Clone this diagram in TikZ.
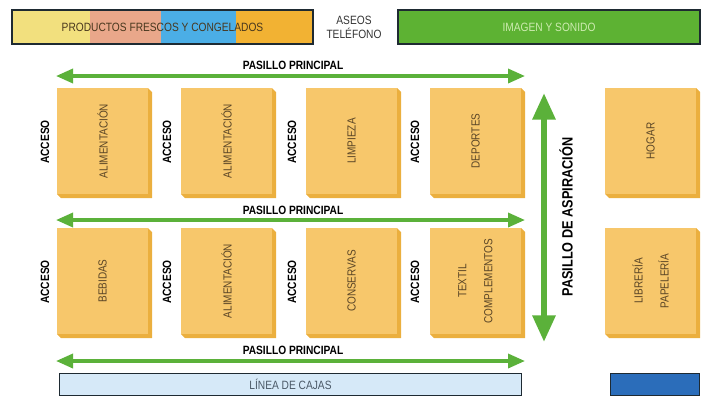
\documentclass[tikz,border=0pt]{standalone}
\usepackage{fontspec}
\setmainfont[FakeStretch=0.85]{Liberation Sans}
\usetikzlibrary{arrows.meta}

\definecolor{shelfface}{HTML}{F7C76B}
\definecolor{shelfside}{HTML}{EBAF3E}
\definecolor{shelfink}{HTML}{5A4526}
\definecolor{fyellow}{HTML}{F2E07E}
\definecolor{fsalmon}{HTML}{E9A78A}
\definecolor{fblue}{HTML}{4BAEE6}
\definecolor{forange}{HTML}{F2B233}
\definecolor{aislegreen}{HTML}{5BB13A}
\definecolor{imggreen}{HTML}{5DB233}
\definecolor{imgink}{HTML}{CDEBB0}
\definecolor{cajasfill}{HTML}{D6E9F8}
\definecolor{cajasink}{HTML}{4A5866}
\definecolor{cajablue}{HTML}{2B6DBA}
\definecolor{darkedge}{HTML}{1E2A32}

\tikzset{every picture/.style={line width=0.75pt}}
\tikzset{
  shelfbox/.style={fill=shelfface, inner sep=0pt, outer sep=0pt,
    minimum width=68.25pt, minimum height=79.5pt},
  shelftext/.style={rotate=90, text=shelfink, align=center,
    font=\fontsize{8.8}{19.5}\selectfont},
  acceso/.style={rotate=90, font=\bfseries\fontsize{9}{10}\selectfont},
  aislename/.style={font=\bfseries\fontsize{9}{10}\selectfont},
  aisle/.style={draw=aislegreen, line width=2.6pt,
    {Triangle[length=12.75pt,width=10.5pt]}-{Triangle[length=12.75pt,width=10.5pt]}},
  bigaisle/.style={draw=aislegreen, line width=4.5pt,
    {Triangle[length=20pt,width=16.5pt]}-{Triangle[length=20pt,width=16.5pt]}},
  topbox/.style={draw=darkedge, line width=0.8pt, inner sep=0pt, outer sep=0pt,
    font=\fontsize{9}{10}\selectfont}
}

% shelf: name, left x, top y, text
\newcommand{\estante}[4]{%
  \node[shelfbox] (#1) at (#2+45.5,#3+53) {};
  \fill[shelfside] (#1.north east) -- ++(4,4) -- ++(0,106) -- ++(-91,0) -- ++(-4,-4) -- (#1.south east) -- cycle;
  \node[shelftext] (#1-txt) at (#1) {#4};
}

\begin{document}
\begin{tikzpicture}[x=0.75pt,y=0.75pt,yscale=-1,xscale=1]
  \useasboundingbox (0,0) rectangle (707,404);

  %Top bar: productos frescos
  \fill[fyellow] (12,10) rectangle (90,44);
  \fill[fsalmon] (90,10) rectangle (161,44);
  \fill[fblue] (161,10) rectangle (236,44);
  \fill[forange] (236,10) rectangle (313,44);
  \node[topbox, minimum width=225.75pt, minimum height=25.5pt, text=shelfink!80!black] (frescos) at (162.5,27) {PRODUCTOS FRESCOS Y CONGELADOS};
  \node[align=center, font=\fontsize{9}{10.5}\selectfont, text=black!80] (aseos) at (354,27) {ASEOS\\TELÉFONO};
  \node[topbox, fill=imggreen, text=imgink, minimum width=226.5pt, minimum height=25.5pt] (imagen) at (549,27) {IMAGEN Y SONIDO};

  %Pasillos principales
  \coordinate (p1w) at (56,76);  \coordinate (p1e) at (525,76);
  \coordinate (p2w) at (56,220); \coordinate (p2e) at (525,220);
  \coordinate (p3w) at (56,361); \coordinate (p3e) at (525,361);
  \draw[aisle] (p1w) -- (p1e);
  \draw[aisle] (p2w) -- (p2e);
  \draw[aisle] (p3w) -- (p3e);
  \node[aislename] (pp1) at (293,65) {PASILLO PRINCIPAL};
  \node[aislename] (pp2) at (293,210) {PASILLO PRINCIPAL};
  \node[aislename] (pp3) at (293,350) {PASILLO PRINCIPAL};

  %Pasillo de aspiracion
  \coordinate (asp-n) at (544,93);
  \coordinate (asp-s) at (544,342);
  \draw[bigaisle] (asp-n) -- (asp-s);
  \node[rotate=90, font=\bfseries\fontsize{11.2}{13}\selectfont] (aspiracion) at (566,217) {PASILLO DE ASPIRACIÓN};

  %Shelves
  \estante{ali1}{57}{88}{ALIMENTACIÓN}
  \estante{ali2}{181}{88}{ALIMENTACIÓN}
  \estante{limp}{306}{88}{LIMPIEZA}
  \estante{dep}{430}{88}{DEPORTES}
  \estante{hogar}{605}{88}{HOGAR}
  \estante{beb}{57}{228}{BEBIDAS}
  \estante{ali3}{181}{228}{ALIMENTACIÓN}
  \estante{cons}{306}{228}{CONSERVAS}
  \estante{textil}{430}{228}{TEXTIL\\COMPLEMENTOS}
  \estante{libr}{605}{228}{LIBRERÍA\\PAPELERÍA}

  %Accesos
  \foreach \ax [count=\i] in {45,167,292,415}{
    \node[acceso] (acc-a\i) at (\ax,142) {ACCESO};
    \node[acceso] (acc-b\i) at (\ax,282) {ACCESO};
  }

  %Linea de cajas
  \node[draw=darkedge, line width=0.8pt, fill=cajasfill, text=cajasink, inner sep=0pt,
    minimum width=346.5pt, minimum height=16.5pt, font=\fontsize{9}{10}\selectfont] (cajas) at (290.5,384.5) {LÍNEA DE CAJAS};
  \node[draw=darkedge, line width=0.8pt, fill=cajablue, inner sep=0pt,
    minimum width=66.75pt, minimum height=16.5pt] (caja) at (655,384.5) {};
\end{tikzpicture}
\end{document}
